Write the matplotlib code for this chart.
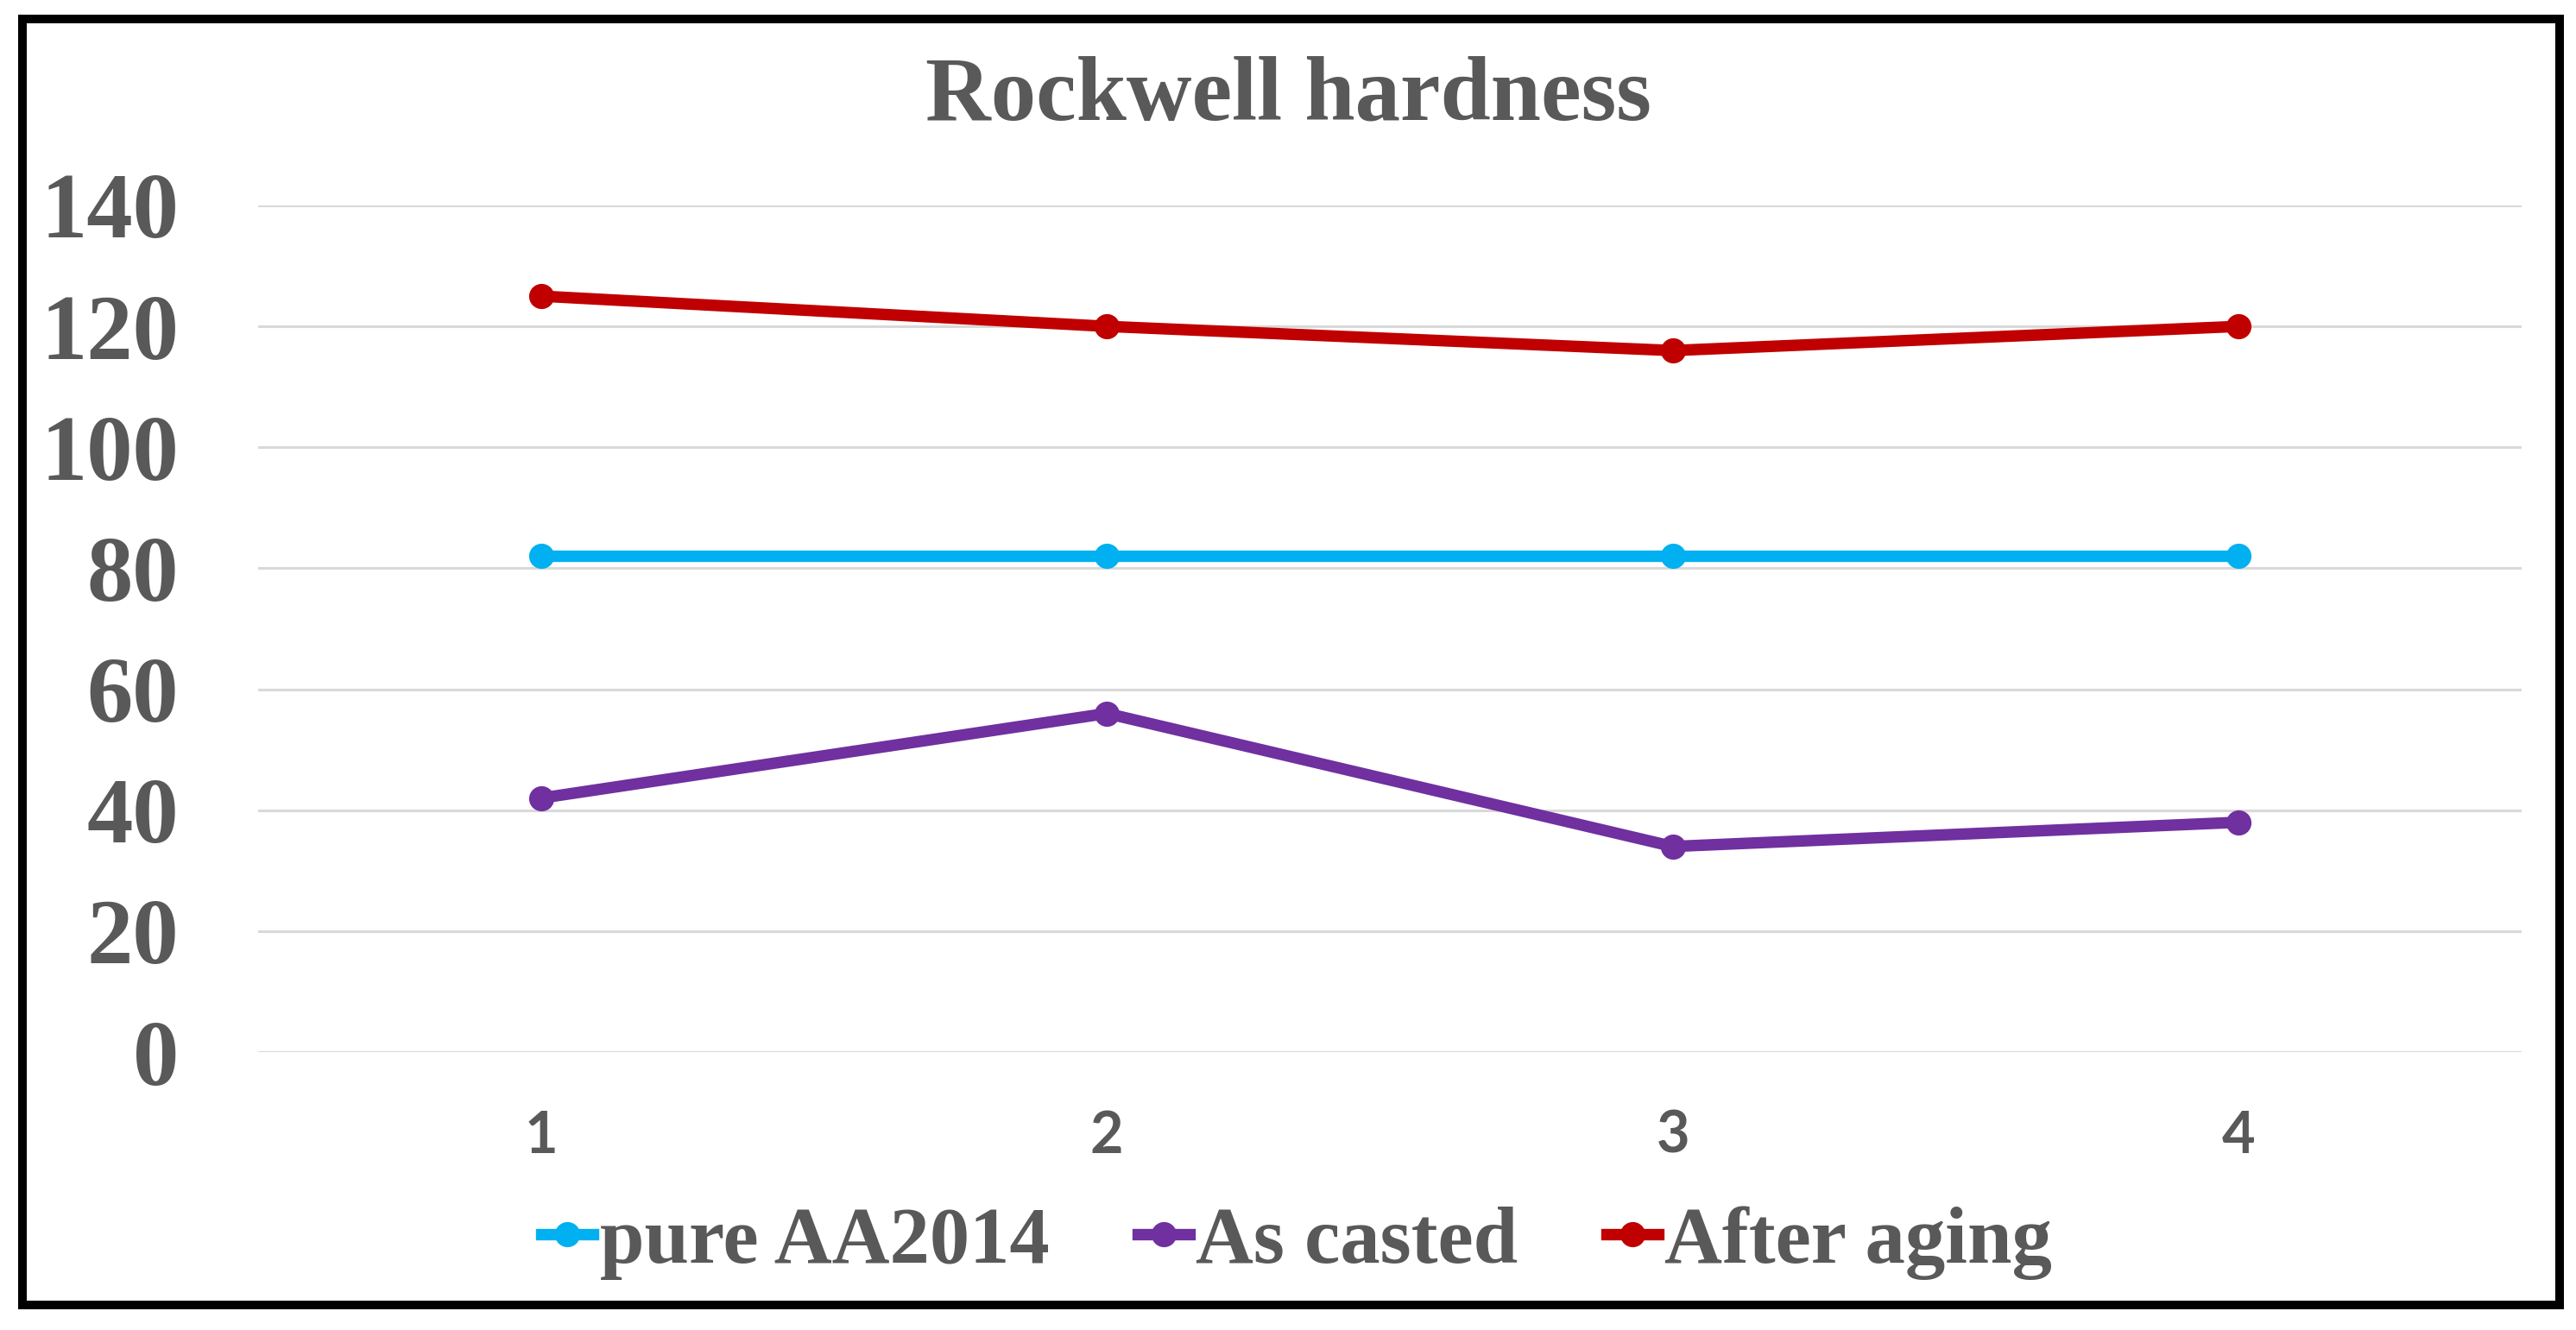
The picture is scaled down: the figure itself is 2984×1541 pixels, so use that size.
import matplotlib.pyplot as plt
from matplotlib.patches import Rectangle

# veriler
samples = [1, 2, 3, 4]
pure_aa2014 = [82, 82, 82, 82]
as_casted = [42, 56, 34, 38]
after_aging = [125, 120, 116, 120]
y_ticks = [0, 20, 40, 60, 80, 100, 120, 140]

gray = '#595959'
W, H = 2984, 1541
fig = plt.figure(figsize=(W / 200, H / 200), dpi=200)
ax = fig.add_axes([299 / W, 1 - 1219 / H, (2921 - 299) / W, (1219 - 238) / H])

lw = 4.8
ms = 9.5
ax.plot(samples, pure_aa2014, '-o', color='#00B0F0', lw=lw, ms=ms, label='pure AA2014')
ax.plot(samples, as_casted, '-o', color='#7030A0', lw=lw, ms=ms, label='As casted')
ax.plot(samples, after_aging, '-o', color='#C00000', lw=lw, ms=ms, label='After aging')

ax.set_xlim(0.5, 4.5)
ax.set_ylim(0, 140)
ax.set_yticks(y_ticks)
ax.set_xticks(samples)
ax.set_yticklabels([str(v) for v in y_ticks], fontfamily='Liberation Serif',
                   fontweight='bold', fontsize=38.4, color=gray)
ax.set_xticklabels([str(v) for v in samples], fontfamily='Lato',
                   fontweight='bold', fontsize=24, color=gray)
ax.tick_params(axis='y', length=0, pad=33)
ax.tick_params(axis='x', length=0, pad=24)
ax.grid(axis='y', color='#D9D9D9', lw=1.1)
ax.set_axisbelow(True)
for s in ax.spines.values():
    s.set_visible(False)

# başlık
fig.text(0.5, 1 - 139 / H, 'Rockwell hardness', ha='center', va='baseline',
         fontfamily='Liberation Serif', fontweight='bold', fontsize=37.7, color=gray)

leg = fig.legend(loc='center', bbox_to_anchor=(0.5034, 1 - 1440 / H), ncol=3,
                 frameon=False, handlelength=0.65, handletextpad=0.08,
                 columnspacing=1.1, borderaxespad=0,
                 prop={'family': 'Liberation Serif', 'weight': 'bold', 'size': 33.4})
for t in leg.get_texts():
    t.set_color(gray)

# dış çerçeve
fig.patches.append(Rectangle((26 / W, 1 - 1512 / H), (2965 - 26) / W, (1512 - 22) / H,
                             transform=fig.transFigure, fill=False,
                             edgecolor='black', lw=3.6))

fig.savefig('out.png', dpi=200, facecolor='white')
